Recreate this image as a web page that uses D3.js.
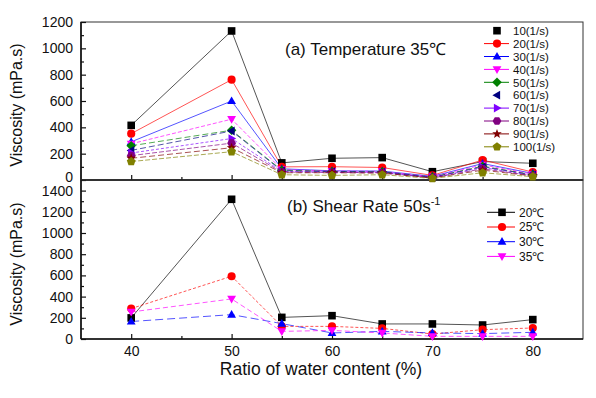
<!DOCTYPE html>
<html>
<head>
<meta charset="utf-8">
<script src="https://cdn.jsdelivr.net/npm/d3@7"></script>
<style>
  body { margin: 0; background: #fff; }
  svg text { font-family: "Liberation Sans", Arial, sans-serif; fill: #111; }
</style>
</head>
<body>
<svg id="chart" width="596" height="398"></svg>
<script>
// water content ratio (%) - same for both panels
const waterRatio = [40, 50, 55, 60, 65, 70, 75, 80];

// (a) temperature 35C, one series per shear rate
const shearLabels = ["10(1/s)", "20(1/s)", "30(1/s)", "40(1/s)", "50(1/s)",
                     "60(1/s)", "70(1/s)", "80(1/s)", "90(1/s)", "100(1/s)"];
const rate10  = [415, 1132, 130, 165, 170, 63, 140, 127];
const rate20  = [352, 762, 100, 101, 95, 35, 152, 60];
const rate30  = [290, 600, 85, 70, 68, 28, 125, 50];
const rate40  = [275, 462, 80, 68, 65, 25, 115, 45];
const rate50  = [260, 378, 75, 65, 62, 22, 105, 40];
const rate60  = [225, 372, 70, 63, 60, 20, 100, 38];
const rate70  = [205, 315, 65, 60, 58, 18, 95, 35];
const rate80  = [185, 280, 60, 58, 55, 16, 85, 32];
const rate90  = [165, 245, 55, 55, 52, 15, 75, 30];
const rate100 = [140, 215, 40, 35, 40, 12, 55, 25];

// (b) shear rate 50 1/s, one series per temperature
const tempLabels = ["20℃", "25℃", "30℃", "35℃"];
const temp20 = [199, 1318, 204, 220, 142, 142, 132, 183];
const temp25 = [287, 592, 119, 119, 100, 47, 88, 104];
const temp30 = [165, 230, 145, 57, 72, 57, 51, 63];
const temp35 = [255, 378, 72, 81, 57, 25, 25, 25];

const xTicks = [40, 50, 60, 70, 80];
const xMinor = [45, 55, 65, 75];
const yTicksTop = [0, 200, 400, 600, 800, 1000, 1200];
const yTicksBot = [0, 200, 400, 600, 800, 1000, 1200, 1400];

const svg = d3.select("#chart");

const left = 81, right = 583, topA = 22, mid = 180, botB = 339;

const x = d3.scaleLinear().domain([35, 85]).range([left, right]);
const yA = d3.scaleLinear().domain([0, 1200]).range([mid, topA]);
const yB = d3.scaleLinear().domain([0, 1500]).range([botB, mid]);

// marker shapes as little polygons around 0,0
function poly(pts) {
  return "M" + pts.map(p => p[0].toFixed(2) + "," + p[1].toFixed(2)).join("L") + "Z";
}
function ring(n, r, rot) {
  const pts = [];
  for (let i = 0; i < n; i++) {
    const a = rot + i * 2 * Math.PI / n;
    pts.push([r * Math.cos(a), r * Math.sin(a)]);
  }
  return pts;
}
function marker(kind) {
  switch (kind) {
    case "square": return poly([[-3.8, -3.8], [3.8, -3.8], [3.8, 3.8], [-3.8, 3.8]]);
    case "circle": return d3.symbol(d3.symbolCircle, 52)();
    case "up": return poly([[0, -4.6], [4.4, 3.1], [-4.4, 3.1]]);
    case "down": return poly([[0, 4.6], [4.4, -3.1], [-4.4, -3.1]]);
    case "diamond": return poly([[0, -4.8], [4.8, 0], [0, 4.8], [-4.8, 0]]);
    case "left": return poly([[-4.6, 0], [3.1, -4.4], [3.1, 4.4]]);
    case "right": return poly([[4.6, 0], [-3.1, -4.4], [-3.1, 4.4]]);
    case "hexagon": return poly(ring(6, 4.4, 0));
    case "star": {
      const pts = [];
      for (let i = 0; i < 10; i++) {
        const a = -Math.PI / 2 + i * Math.PI / 5;
        const r = i % 2 ? 2.1 : 5;
        pts.push([r * Math.cos(a), r * Math.sin(a)]);
      }
      return poly(pts);
    }
    case "pentagon": return poly(ring(5, 4.6, -Math.PI / 2));
  }
}

const seriesA = [
  { name: shearLabels[0], values: rate10,  color: "#000000", shape: "square",  dash: null,  legendLine: false },
  { name: shearLabels[1], values: rate20,  color: "#ff0000", shape: "circle",  dash: null,  legendLine: true },
  { name: shearLabels[2], values: rate30,  color: "#0000ff", shape: "up",      dash: null,  legendLine: true },
  { name: shearLabels[3], values: rate40,  color: "#ff00ff", shape: "down",    dash: "4,2", legendLine: true },
  { name: shearLabels[4], values: rate50,  color: "#008000", shape: "diamond", dash: "6,3", legendLine: true },
  { name: shearLabels[5], values: rate60,  color: "#000080", shape: "left",    dash: "6,3", legendLine: false },
  { name: shearLabels[6], values: rate70,  color: "#7f00ff", shape: "right",   dash: "3,2", legendLine: true },
  { name: shearLabels[7], values: rate80,  color: "#800080", shape: "hexagon", dash: "5,2", legendLine: true },
  { name: shearLabels[8], values: rate90,  color: "#800000", shape: "star",    dash: "6,3", legendLine: true },
  { name: shearLabels[9], values: rate100, color: "#808000", shape: "pentagon",dash: "5,2", legendLine: true }
];

const seriesB = [
  { name: tempLabels[0], values: temp20, color: "#000000", shape: "square", dash: null },
  { name: tempLabels[1], values: temp25, color: "#ff0000", shape: "circle", dash: "3,2" },
  { name: tempLabels[2], values: temp30, color: "#0000ff", shape: "up",     dash: "8,4" },
  { name: tempLabels[3], values: temp35, color: "#ff00ff", shape: "down",   dash: "5,3" }
];

function drawSeries(g, list, y) {
  const line = d3.line().x((d, i) => x(waterRatio[i])).y(d => y(d));
  list.forEach(s => {
    g.append("path")
      .attr("d", line(s.values))
      .attr("fill", "none")
      .attr("stroke", s.color)
      .attr("stroke-opacity", 0.75)
      .attr("stroke-width", 0.9)
      .attr("stroke-dasharray", s.dash);
  });
  list.forEach(s => {
    g.selectAll(null)
      .data(s.values)
      .enter()
      .append("path")
      .attr("d", marker(s.shape))
      .attr("transform", (d, i) => "translate(" + x(waterRatio[i]) + "," + y(d) + ")")
      .attr("fill", s.color);
  });
}

function drawAxes(y, top, bottom, yTicks, withLabels) {
  // frame
  svg.append("rect")
    .attr("x", left).attr("y", top)
    .attr("width", right - left).attr("height", bottom - top)
    .attr("fill", "none").attr("stroke", "#333").attr("stroke-width", 1);

  const minorY = d3.range(100, y.domain()[1], 200);
  svg.append("g")
    .attr("transform", "translate(" + left + ",0)")
    .call(d3.axisLeft(y).tickValues(minorY).tickSize(-3).tickSizeOuter(0).tickFormat(""))
    .call(g => g.select(".domain").remove());
  const ya = svg.append("g")
    .attr("transform", "translate(" + left + ",0)")
    .call(d3.axisLeft(y).tickValues(yTicks).tickSize(-5).tickSizeOuter(0)
      .tickPadding(8).tickFormat(d3.format("d")))
    .call(g => g.select(".domain").remove())
    .call(g => g.selectAll("text").attr("font-size", 14));
  // the top panel's 0 sits right above the lower panel's 1400
  if (!withLabels) ya.selectAll("text").filter(d => d === 0).attr("dy", "0.1em");

  svg.append("g")
    .attr("transform", "translate(0," + bottom + ")")
    .call(d3.axisBottom(x).tickValues(xMinor).tickSize(-3).tickSizeOuter(0).tickFormat(""))
    .call(g => g.select(".domain").remove());
  const xa = svg.append("g")
    .attr("transform", "translate(0," + bottom + ")")
    .call(d3.axisBottom(x).tickValues(xTicks).tickSize(-5).tickSizeOuter(0).tickPadding(7))
    .call(g => g.select(".domain").remove())
    .call(g => g.selectAll("text").attr("font-size", 14));
  if (!withLabels) xa.selectAll("text").remove();

  svg.selectAll(".tick line").attr("stroke", "#111").attr("stroke-width", 1.2);

  svg.append("line").attr("x1", left).attr("x2", left).attr("y1", top).attr("y2", bottom)
    .attr("stroke", "#111").attr("stroke-width", 1.6);
  svg.append("line").attr("x1", left).attr("x2", right).attr("y1", bottom).attr("y2", bottom)
    .attr("stroke", "#111").attr("stroke-width", 1.6);
}

// panels
drawAxes(yA, topA, mid, yTicksTop, false);
drawAxes(yB, mid, botB, yTicksBot, true);

drawSeries(svg.append("g"), seriesA, yA);
drawSeries(svg.append("g"), seriesB, yB);

// titles
svg.append("text").attr("x", 285).attr("y", 55).attr("font-size", 17)
  .text("(a) Temperature 35℃");
const tb = svg.append("text").attr("x", 287).attr("y", 212).attr("font-size", 17);
tb.append("tspan").text("(b) Shear Rate 50s");
tb.append("tspan").attr("font-size", 11).attr("dy", -7).text("-1");

// axis titles
svg.append("text").attr("transform", "translate(22,105) rotate(-90)")
  .attr("text-anchor", "middle").attr("font-size", 16).text("Viscosity (mPa.s)");
svg.append("text").attr("transform", "translate(22,264) rotate(-90)")
  .attr("text-anchor", "middle").attr("font-size", 16).text("Viscosity (mPa.s)");
svg.append("text").attr("x", 321).attr("y", 375).attr("text-anchor", "middle")
  .attr("font-size", 17.5).text("Ratio of water content (%)");

// legend (a)
seriesA.forEach((s, i) => {
  const cy = 30.7 + i * 12.9;
  if (s.legendLine) {
    svg.append("line").attr("x1", 484).attr("x2", 509).attr("y1", cy).attr("y2", cy)
      .attr("stroke", s.color).attr("stroke-width", 1);
  }
  svg.append("path").attr("d", marker(s.shape))
    .attr("transform", "translate(497," + cy + ")").attr("fill", s.color);
  svg.append("text").attr("x", 513).attr("y", cy + 4.2).attr("font-size", 11.5).text(s.name);
});

// legend (b)
seriesB.forEach((s, i) => {
  const cy = 212.3 + i * 14.7;
  svg.append("line").attr("x1", 487).attr("x2", 515).attr("y1", cy).attr("y2", cy)
    .attr("stroke", s.color).attr("stroke-width", 1);
  svg.append("path").attr("d", marker(s.shape))
    .attr("transform", "translate(502," + cy + ")").attr("fill", s.color);
  svg.append("text").attr("x", 519).attr("y", cy + 4.4).attr("font-size", 12).text(s.name);
});
</script>
</body>
</html>
